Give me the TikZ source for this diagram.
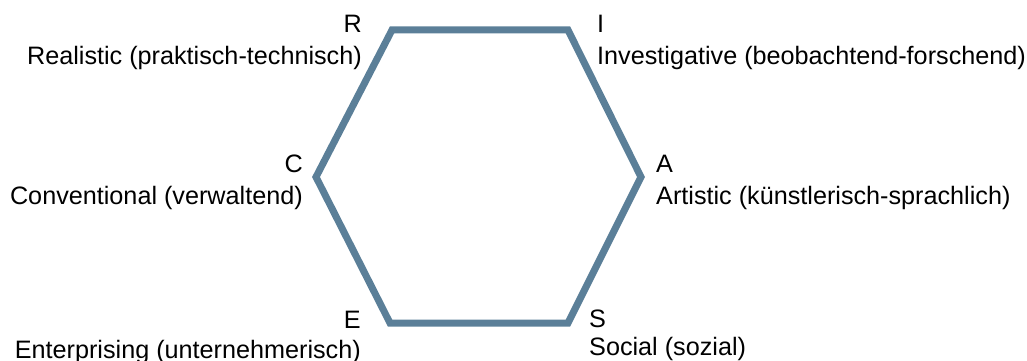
\documentclass[tikz,border=0pt]{standalone}
\usepackage{fontspec}
\setmainfont{Liberation Sans}
\definecolor{hexblue}{RGB}{91,127,152}
\begin{document}
\begin{tikzpicture}[x=1pt,y=-1pt,
  lbl/.style={inner sep=0pt,font=\fontsize{25.2}{30}\selectfont},
  hexline/.style={draw=hexblue,line width=7pt,line join=miter}]
\useasboundingbox (0,0) rectangle (1027,361);
\coordinate (R) at (392,30);
\coordinate (I) at (568,30);
\coordinate (A) at (641,177);
\coordinate (S) at (568,323);
\coordinate (E) at (390,323);
\coordinate (C) at (316,177);
\draw[hexline] (R) -- (I) -- (A) -- (S) -- (E) -- (C) -- cycle;
\node[lbl,anchor=base east] (rl) at (362,33) {R};
\node[lbl,anchor=base east] (rd) at (362,64) {Realistic (praktisch-technisch)};
\node[lbl,anchor=base west] (il) at (597,33) {I};
\node[lbl,anchor=base west] (id) at (597,64) {Investigative (beobachtend-forschend)};
\node[lbl,anchor=base east] (cl) at (303,172) {C};
\node[lbl,anchor=base east] (cd) at (303,204) {Conventional (verwaltend)};
\node[lbl,anchor=base west] (al) at (656,172) {A};
\node[lbl,anchor=base west] (ad) at (656,204) {Artistic (künstlerisch-sprachlich)};
\node[lbl,anchor=base east] (el) at (361,328) {E};
\node[lbl,anchor=base east] (ed) at (361,358) {Enterprising (unternehmerisch)};
\node[lbl,anchor=base west] (sl) at (589,327) {S};
\node[lbl,anchor=base west] (sd) at (589,355) {Social (sozial)};
\end{tikzpicture}
\end{document}
